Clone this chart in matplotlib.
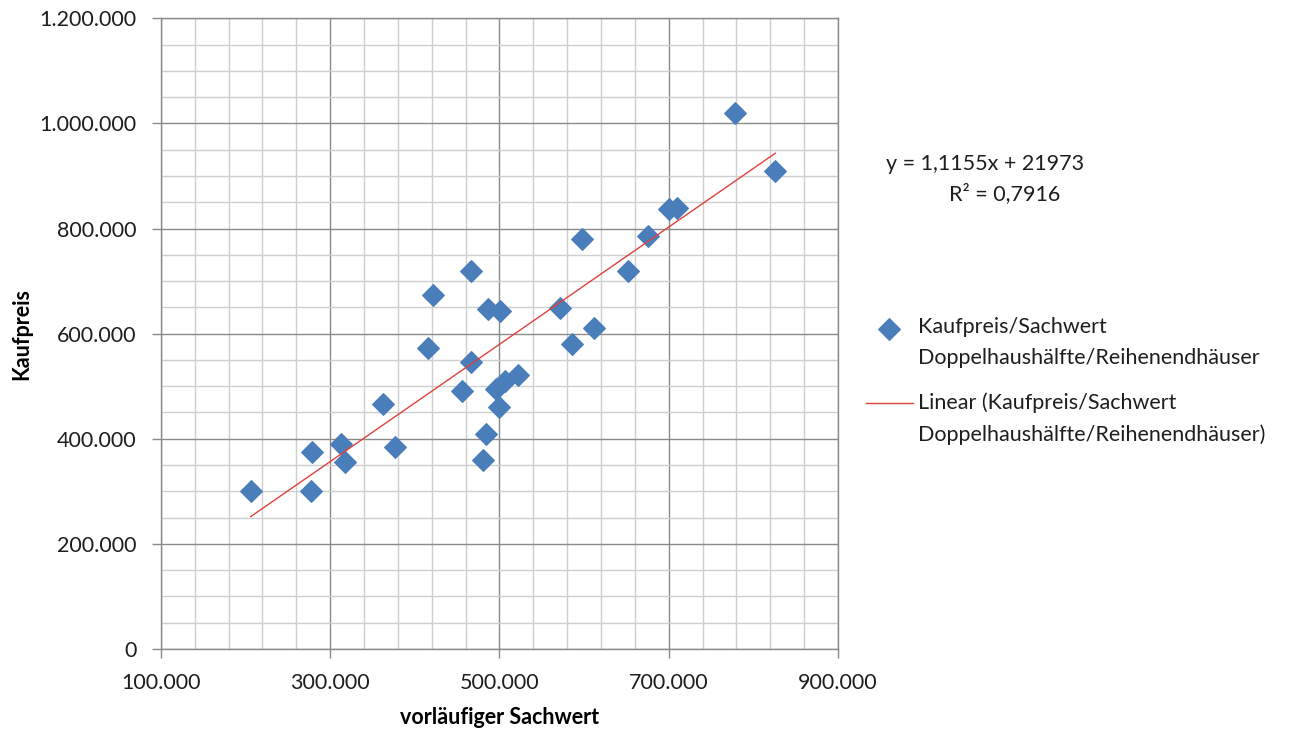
import numpy as np
import matplotlib
matplotlib.use("Agg")
import matplotlib.pyplot as plt
from matplotlib.ticker import FixedLocator, FuncFormatter

# Daten: vorlaeufiger Sachwert vs. Kaufpreis
sachwert = [206000, 277000, 279000, 313000, 317000, 362000, 376000, 415000,
            421000, 456000, 466000, 466000, 481000, 484000, 487000, 501000,
            496000, 507000, 500000, 522000, 571000, 586000, 597000, 612000,
            652000, 675000, 700000, 710000, 778000, 826000]
kaufpreis = [300000, 300000, 374000, 391000, 355000, 467000, 385000, 573000,
             674000, 490000, 720000, 547000, 360000, 410000, 646000, 644000,
             495000, 510000, 461000, 521000, 649000, 580000, 780000, 610000,
             720000, 785000, 838000, 840000, 1020000, 910000]

# Trendlinie laut Diagramm
steigung = 1.1155
achse = 21973
r2 = 0.7916

plt.rcParams['font.family'] = ['Lato', 'DejaVu Sans']
fs = 15.5

fig = plt.figure(figsize=(13.01, 7.31), dpi=100)
ax = fig.add_axes([0.1237, 0.1122, 0.5204, 0.8627])

blau = '#4a7ebb'
rot = '#e0413c'

ax.scatter(sachwert, kaufpreis, marker='D', s=120, color=blau, zorder=3,
           label='Kaufpreis/Sachwert\nDoppelhaushälfte/Reihenendhäuser')

xs = np.array([min(sachwert), max(sachwert)])
ax.plot(xs, steigung * xs + achse, color=rot, lw=1, zorder=4,
        label='Linear (Kaufpreis/Sachwert\nDoppelhaushälfte/Reihenendhäuser)')

ax.set_xlim(100000, 900000)
ax.set_ylim(0, 1200000)
ax.xaxis.set_major_locator(FixedLocator(np.arange(100000, 900001, 200000)))
ax.xaxis.set_minor_locator(FixedLocator(np.arange(100000, 900001, 40000)))
ax.yaxis.set_major_locator(FixedLocator(np.arange(0, 1200001, 200000)))
ax.yaxis.set_minor_locator(FixedLocator(np.arange(0, 1200001, 50000)))

fmt = FuncFormatter(lambda v, p: f"{int(round(v)):,}".replace(",", "."))
ax.xaxis.set_major_formatter(fmt)
ax.yaxis.set_major_formatter(fmt)

ax.grid(which='major', color='#8a8a8a', lw=1)
ax.grid(which='minor', color='#cfcfcf', lw=1)
ax.set_axisbelow(True)
for s in ax.spines.values():
    s.set_color('#8a8a8a')
    s.set_linewidth(1)

ax.tick_params(which='major', length=6.5, width=1, color='#8a8a8a',
               labelsize=fs, labelcolor='#1e1e1e')
ax.tick_params(axis='y', which='major', pad=11)
ax.tick_params(axis='x', which='major', pad=11)
ax.tick_params(which='minor', length=0)

ax.set_xlabel('vorläufiger Sachwert', fontsize=fs, fontweight='bold', labelpad=10)
ax.set_ylabel('Kaufpreis', fontsize=fs, fontweight='bold', labelpad=5)

fig.text(0.757, 0.775, f"y = {str(steigung).replace('.', ',')}x + {achse}",
         fontsize=fs, ha='center', va='center', color='#1e1e1e')
fig.text(0.772, 0.735, f"R² = {str(r2).replace('.', ',')}",
         fontsize=fs, ha='center', va='center', color='#1e1e1e')

leg = ax.legend(loc='upper left', bbox_to_anchor=(1.041, 0.526), frameon=False,
                fontsize=fs, handlelength=2.2, labelspacing=1.1,
                handletextpad=0.25, borderpad=0, borderaxespad=0,
                labelcolor='#1e1e1e')
for t in leg.get_texts():
    t.set_linespacing(1.7)

# Symbole in der Legende auf Hoehe der ersten Textzeile schieben
h_punkt, h_linie = leg.legend_handles
h_punkt.set_offsets(h_punkt.get_offsets() + np.array([0, 12]))
h_linie.set_ydata(np.asarray(h_linie.get_ydata()) + 11.5)

fig.savefig('out.png', dpi=100)
